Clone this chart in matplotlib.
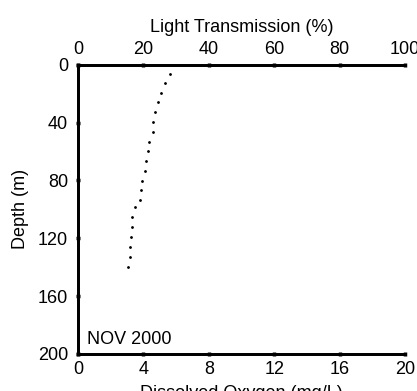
import numpy as np
import matplotlib
matplotlib.use("Agg")
import matplotlib.pyplot as plt

plt.rcParams['font.family'] = ['Liberation Sans', 'DejaVu Sans']

# light transmission profile
light = [28.0, 26.7, 25.5, 24.5, 23.6, 23.1, 22.8, 21.8, 21.5, 20.9, 20.5,
         19.7, 19.4, 19.1, 17.3, 16.6, 16.4, 16.3, 15.9, 15.8, 15.4]
depth = [6.4, 12.7, 19.6, 25.8, 32.7, 39.2, 46.2, 53.1, 59.3, 66.2, 73.2,
         80.1, 86.5, 93.4, 98.5, 105.0, 111.9, 119.2, 126.2, 133.1, 140.0]

light_ticks = [0, 20, 40, 60, 80, 100]
oxygen_ticks = [0, 4, 8, 12, 16, 20]
depth_ticks = [0, 40, 80, 120, 160, 200]

fs = 13

fig = plt.figure(figsize=(4.17, 3.91), dpi=100)
ax = fig.add_axes([0.187, 0.095, 0.784, 0.739])
ax2 = ax.twiny()

ax.plot(light, depth, linestyle="none", marker="o", markersize=1.0, color="black")
ax.set_xlim(0, 100)
ax.set_ylim(200, 0)
ax.set_yticks(depth_ticks)
ax.set_ylabel("Depth (m)", fontsize=fs, labelpad=6)
ax.tick_params(axis="y", labelsize=fs, length=2.5, width=2.5,
               direction="inout", pad=6)
# dissolved oxygen scale along the bottom of the main axes
ax.set_xticks(np.array(oxygen_ticks) * 5)
ax.set_xticklabels([str(t) for t in oxygen_ticks])
ax.xaxis.tick_bottom()
ax.xaxis.set_label_position("bottom")
ax.set_xlabel("Dissolved Oxygen (mg/L)", fontsize=fs, labelpad=5)
ax.tick_params(axis="x", labelsize=fs, length=2.5, width=2.5,
               direction="inout", pad=4)

# light transmission scale on top
ax2.set_xlim(0, 100)
ax2.set_xticks(light_ticks)
ax2.xaxis.tick_top()
ax2.xaxis.set_label_position("top")
ax2.set_xlabel("Light Transmission (%)", fontsize=fs, labelpad=6)
ax2.tick_params(axis="x", labelsize=fs, length=2.5, width=2.5,
                direction="inout", pad=4)

for a in (ax, ax2):
    a.spines["right"].set_visible(False)
    for s in ("left", "top", "bottom"):
        a.spines[s].set_linewidth(2)

ax.text(2.7, 196, "NOV 2000", fontsize=fs, ha="left", va="bottom")

fig.savefig("out.png", dpi=100)
